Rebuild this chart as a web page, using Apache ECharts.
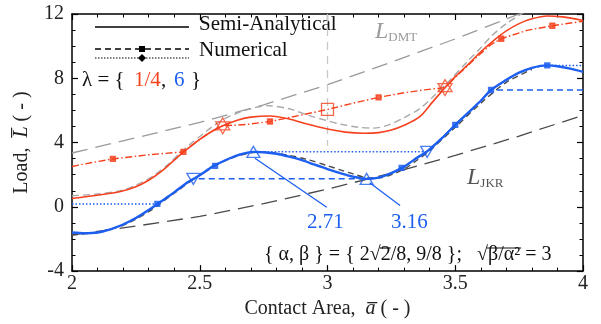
<!DOCTYPE html>
<html>
<head>
<meta charset="utf-8">
<script src="https://cdn.jsdelivr.net/npm/echarts@6/dist/echarts.min.js"></script>
<style>html,body{margin:0;background:#fff}#c{width:601px;height:324px}</style>
</head>
<body>
<div id="c"></div>
<script>
// tick labels
const xTicks = [2, 2.5, 3, 3.5, 4];
const yTicks = [-4, 0, 4, 8, 12];

// semi-analytical curves  [a, L]
const redSemi = [[2.0,0.52],[2.1,0.72],[2.19,0.95],[2.25,1.25],[2.3,1.65],[2.35,2.2],[2.4,2.9],[2.436,3.4],[2.5,4.2],[2.55,4.72],[2.59,5.04],[2.65,5.4],[2.7,5.58],[2.775,5.65],[2.85,5.47],[2.92,5.15],[3.0,4.84],[3.07,4.65],[3.14,4.58],[3.2,4.62],[3.25,4.78],[3.3,5.08],[3.36,5.6],[3.41,6.5],[3.46,7.42],[3.5,8.1],[3.55,8.85],[3.6,9.65],[3.65,10.35],[3.7,10.95],[3.75,11.4],[3.8,11.7],[3.86,11.88],[3.92,11.82],[4.0,11.6]];
const blueSemi = [[2.0,-1.6],[2.05,-1.65],[2.1,-1.6],[2.15,-1.4],[2.2,-1.1],[2.25,-0.7],[2.3,-0.2],[2.35,0.35],[2.4,0.9],[2.45,1.5],[2.5,1.97],[2.55,2.5],[2.6,2.9],[2.65,3.22],[2.71,3.42],[2.75,3.4],[2.8,3.3],[2.85,3.12],[2.9,2.9],[2.95,2.62],[3.0,2.35],[3.05,2.1],[3.1,1.88],[3.153,1.74],[3.2,1.82],[3.25,2.1],[3.3,2.5],[3.35,3.05],[3.39,3.45],[3.45,4.3],[3.5,5.1],[3.55,5.85],[3.6,6.6],[3.64,7.27],[3.7,7.9],[3.75,8.35],[3.8,8.65],[3.86,8.8],[3.9,8.75],[3.95,8.6],[4.0,8.4]];

// comparison curves (grey)
const greyRed = [[2.0,0.69],[2.1,0.8],[2.19,1.0],[2.25,1.35],[2.32,1.95],[2.38,2.7],[2.42,3.3],[2.47,4.0],[2.51,4.5],[2.55,5.0],[2.6,5.5],[2.65,5.85],[2.7,6.1],[2.76,6.3],[2.85,6.1],[2.92,5.72],[3.0,5.35],[3.05,5.15],[3.12,4.95],[3.18,4.9],[3.24,5.1],[3.3,5.55],[3.36,6.1],[3.41,6.8],[3.48,7.9],[3.545,9.0],[3.6,9.9],[3.64,10.6],[3.7,11.4],[3.79,12.3]];
const greyBlue = [[2.0,-1.75],[2.1,-1.58],[2.2,-1.15],[2.3,-0.3],[2.4,0.85],[2.5,1.97],[2.6,2.88],[2.7,3.36],[2.76,3.4],[2.85,3.2],[2.92,2.95],[3.0,2.56],[3.05,2.3],[3.1,2.05],[3.16,1.8],[3.2,1.8],[3.25,2.0],[3.3,2.35],[3.35,2.9],[3.4,3.5],[3.5,4.95],[3.6,6.45],[3.7,7.75],[3.8,8.55]];
const dmtLine = [[2.0,3.35],[2.25,4.3],[2.5,5.25],[2.75,6.35],[3.0,7.6],[3.25,9.0],[3.5,10.45],[3.75,12.0],[3.8,12.3]];
const jkrLine = [[2.0,-1.75],[2.25,-1.2],[2.5,-0.6],[2.75,0.2],[3.0,1.1],[3.25,2.1],[3.5,3.2],[3.75,4.4],[4.0,5.7]];

// numerical
const redNum = [[2.0,2.51],[2.08,2.76],[2.16,2.98],[2.3,3.24],[2.436,3.42],[2.5,4.2],[2.55,4.72],[2.59,5.04],[2.68,5.12],[2.775,5.31],[2.9,5.72],[3.0,6.06],[3.1,6.45],[3.2,6.81],[3.3,7.1],[3.38,7.28],[3.46,7.42],[3.5,8.05],[3.55,8.8],[3.6,9.55],[3.64,10.1],[3.68,10.46],[3.78,10.98],[3.88,11.27],[4.0,11.55]];
const redMarks = [[2.16,2.98],[2.436,3.42],[2.775,5.31],[3.2,6.81],[3.68,10.46],[3.88,11.27]];
const redStars = [[2.59,5.04],[3.46,7.42]];
const redOpen = [[3.0,6.06]];
const vLine = [[3.0,12],[3.0,3.8]];
// blue jumps [from a, to a, L]
const blueJumpUp = [[2.0,2.334,0.18],[2.71,3.39,3.42],[3.86,4.0,8.8]];
const blueJumpDown = [[4.0,3.64,7.27],[3.153,2.475,1.74]];
const blueMarks = [[2.334,0.18],[2.56,2.55],[3.29,2.42],[3.5,5.1],[3.64,7.27],[3.86,8.8]];
const triUp = [[2.71,3.42],[3.153,1.74]];
const triDown = [[2.475,1.74],[3.39,3.42]];
const ann271 = [[2.716,3.02],[2.997,-0.03]];
const ann316 = [[3.165,1.5],[3.284,0.08]];

const RED = '#f5411e', BLUE = '#1d5ff0', LG = '#a9a9a9', DG = '#4a4a4a';
const FONT = 'Liberation Serif';
const F21 = '21px "Liberation Serif"';
const F20 = '20px "Liberation Serif"';

function along(a0, a1) { return blueSemi.filter(p => p[0] > a0 && p[0] < a1); }
// loading path (dotted): jump in, follow curve, jump at peaks
const blueUpPath = [];
blueJumpUp.forEach((j, i) => {
  blueUpPath.push([j[0], j[2]], [j[1], j[2]]);
  if (i < blueJumpUp.length - 1) blueUpPath.push(...along(j[1], blueJumpUp[i + 1][0]));
});
// unloading path (dashed)
const blueDownPath = [];
blueJumpDown.forEach((j, i) => {
  blueDownPath.push([j[0], j[2]], [j[1], j[2]]);
  const next = i < blueJumpDown.length - 1 ? blueJumpDown[i + 1][0] : 2.0;
  blueDownPath.push(...along(next, j[1]).reverse());
  if (i === blueJumpDown.length - 1) blueDownPath.push(blueSemi[0]);
});

const star = 'path://M0,-10L8.66,5L-8.66,5Z M0,10L-8.66,-5L8.66,-5Z';

// bottom formula, with overlines for the square roots
const formula = '{ \u03b1, \u03b2 } = { 2\u221a2/8, 9/8 };   \u221a\u03b2/\u03b1\u00b2 = 3';
const fx = 264, fy = 245;
const mctx = document.createElement('canvas').getContext('2d');
mctx.font = F20;
const w = s => mctx.measureText(s).width;
const r1a = fx + w('{ \u03b1, \u03b2 } = { 2\u221a') - 1;
const r1b = r1a + w('2') + 1;
const r2a = fx + w('{ \u03b1, \u03b2 } = { 2\u221a2/8, 9/8 };   \u221a') - 1;
const r2b = fx + w('{ \u03b1, \u03b2 } = { 2\u221a2/8, 9/8 };   \u221a\u03b2/\u03b1\u00b2') + 1;
const oy = fy + 3;

const chart = echarts.init(document.getElementById('c'));
const axisCommon = {
  type: 'value', splitLine: { show: false },
  axisLine: { onZero: false, lineStyle: { color: '#000', width: 1.5 } },
  axisTick: { inside: true, length: 6, lineStyle: { color: '#000', width: 1.2 } },
  minorTick: { show: true, length: 3.5, lineStyle: { color: '#000', width: 1 } },
  axisLabel: { fontFamily: FONT, fontSize: 20, color: '#222' }
};
function line(data, color, width, type, extra) {
  return Object.assign({ type: 'line', data: data, showSymbol: false, symbol: 'none', silent: true,
    lineStyle: { color: color, width: width, type: type }, z: 2 }, extra || {});
}
function marks(data, symbol, size, color, fill, extra) {
  return Object.assign({ type: 'scatter', data: data, symbol: symbol, symbolSize: size, silent: true,
    itemStyle: { color: fill, borderColor: color, borderWidth: 1.3 }, z: 6 }, extra || {});
}
const nameRich = { n: { fontFamily: FONT, fontSize: 20, color: '#222' }, i: { fontFamily: FONT, fontSize: 20, fontStyle: 'italic', color: '#222' } };

chart.setOption({
  animation: false,
  grid: { left: 72, right: 18, top: 14, bottom: 47 },
  xAxis: [
    Object.assign({}, axisCommon, { min: 2, max: 4, interval: 0.5, minorTick: Object.assign({}, axisCommon.minorTick, { splitNumber: 5 }),
      axisLabel: Object.assign({}, axisCommon.axisLabel, { margin: 3, formatter: v => xTicks.includes(v) ? String(v) : '' }),
      name: '{n|Contact Area,  }{i|a\u0305}{n| ( - )}', nameLocation: 'middle', nameGap: 27,
      nameTextStyle: { rich: nameRich } }),
    Object.assign({}, axisCommon, { position: 'top', min: 2, max: 4, interval: 0.5, minorTick: Object.assign({}, axisCommon.minorTick, { splitNumber: 5 }), axisLabel: { show: false } })
  ],
  yAxis: [
    Object.assign({}, axisCommon, { min: -4, max: 12, interval: 4, minorTick: Object.assign({}, axisCommon.minorTick, { splitNumber: 4 }),
      axisLabel: Object.assign({}, axisCommon.axisLabel, { margin: 8, formatter: v => yTicks.includes(v) ? String(v) : '' }),
      name: '{n|Load,  }{i|L\u0305}{n| ( - )}', nameLocation: 'middle', nameGap: 40, nameRotate: 90,
      nameTextStyle: { rich: nameRich } }),
    Object.assign({}, axisCommon, { position: 'right', min: -4, max: 12, interval: 4, minorTick: Object.assign({}, axisCommon.minorTick, { splitNumber: 4 }), axisLabel: { show: false } })
  ],
  series: [
    line(dmtLine, '#9a9a9a', 1.3, [16, 8], { z: 1 }),
    line(jkrLine, DG, 1.3, [16, 8], { z: 1 }),
    line(vLine, '#c8c8c8', 1.3, [8, 6], { z: 1 }),
    line(greyRed, LG, 1.4, [7, 4], { smooth: 0.3, z: 1 }),
    line(greyBlue, DG, 1.4, [6, 4], { smooth: 0.3, z: 1 }),
    line(redNum, RED, 1.4, [7, 2.5, 1.5, 2.5], { z: 3 }),
    line(blueUpPath, BLUE, 1.5, [1.5, 2], { z: 3 }),
    line(blueDownPath, BLUE, 1.5, [6, 4], { z: 3 }),
    line(redSemi, RED, 1.6, 'solid', { smooth: 0.3, z: 4 }),
    line(blueSemi, BLUE, 2.4, 'solid', { smooth: 0.3, z: 4 }),
    line(ann271, BLUE, 1.3, 'solid', { z: 4 }),
    line(ann316, BLUE, 1.3, 'solid', { z: 4 }),
    marks(redMarks, 'rect', 5, RED, RED),
    marks(blueMarks, 'rect', 5, BLUE, BLUE),
    marks(redStars, star, [14, 16], RED, 'rgba(0,0,0,0)'),
    marks(redOpen, 'rect', 12, RED, 'rgba(0,0,0,0)'),
    marks(triUp, 'triangle', [13, 11], BLUE, 'rgba(0,0,0,0)'),
    marks(triDown, 'triangle', [13, 11], BLUE, 'rgba(0,0,0,0)', { symbolRotate: 180 })
  ],
  graphic: [
    // legend
    { type: 'line', shape: { x1: 95, y1: 27, x2: 189, y2: 27 }, style: { stroke: '#000', lineWidth: 1.5 } },
    { type: 'line', shape: { x1: 95, y1: 49, x2: 189, y2: 49 }, style: { stroke: '#000', lineWidth: 1.3, lineDash: [6, 4] } },
    { type: 'rect', shape: { x: 139, y: 46, width: 6, height: 6 }, style: { fill: '#000' } },
    { type: 'line', shape: { x1: 95, y1: 58, x2: 189, y2: 58 }, style: { stroke: '#000', lineWidth: 1, lineDash: [1.5, 1.5] } },
    { type: 'polygon', shape: { points: [[142, 54], [146, 58], [142, 62], [138, 58]] }, style: { fill: '#000' } },
    { type: 'text', left: 199, top: 14, style: { text: 'Semi-Analytical', font: F21, fill: '#111' } },
    { type: 'text', left: 199, top: 40, style: { text: 'Numerical', font: F21, fill: '#111' } },
    { type: 'text', left: 82, top: 70, style: { text: '\u03bb = {', font: F21, fill: '#111' } },
    { type: 'text', left: 134, top: 70, style: { text: '1/4', font: F21, fill: RED } },
    { type: 'text', left: 161, top: 70, style: { text: ',', font: F21, fill: '#111' } },
    { type: 'text', left: 174, top: 70, style: { text: '6', font: F21, fill: BLUE } },
    { type: 'text', left: 191, top: 70, style: { text: '}', font: F21, fill: '#111' } },
    // curve labels
    { type: 'text', left: 375, top: 20, style: { text: '{L|L}{s|DMT}', rich: { L: { font: 'italic 24px "Liberation Serif"', fill: '#9a9a9a' }, s: { font: '13px "Liberation Serif"', fill: '#9a9a9a', padding: [12, 0, 0, 0] } } } },
    { type: 'text', left: 467, top: 166, style: { text: '{L|L}{s|JKR}', rich: { L: { font: 'italic 24px "Liberation Serif"', fill: '#555' }, s: { font: '13px "Liberation Serif"', fill: '#555', padding: [12, 0, 0, 0] } } } },
    { type: 'text', left: 307, top: 212, style: { text: '2.71', font: F21, fill: BLUE } },
    { type: 'text', left: 391, top: 212, style: { text: '3.16', font: F21, fill: BLUE } },
    { type: 'text', left: fx, top: fy, style: { text: formula, font: F20, fill: '#111' } },
    { type: 'line', shape: { x1: r1a, y1: oy, x2: r1b, y2: oy }, style: { stroke: '#111', lineWidth: 1.2 } },
    { type: 'line', shape: { x1: r2a, y1: oy, x2: r2b, y2: oy }, style: { stroke: '#111', lineWidth: 1.2 } }
  ]
});
</script>
</body>
</html>
